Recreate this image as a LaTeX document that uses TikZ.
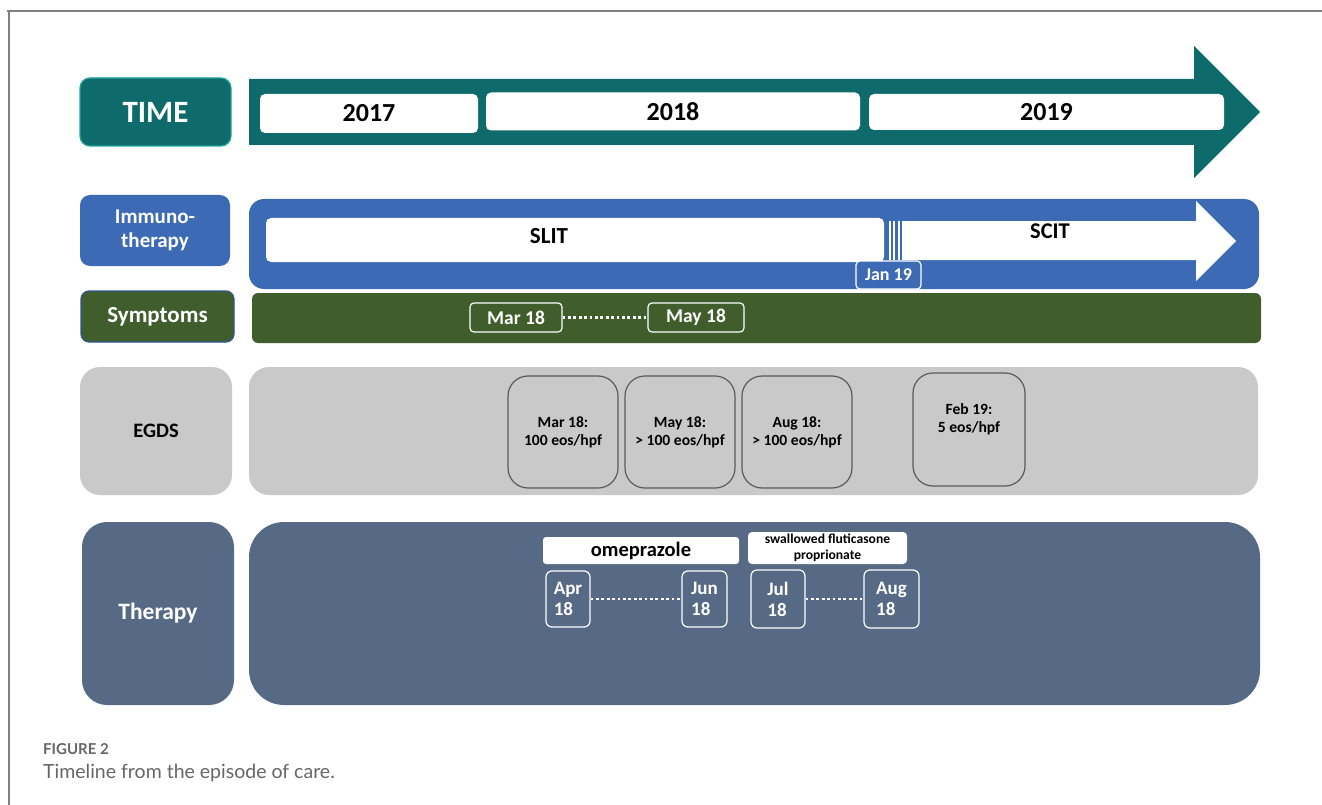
\documentclass[tikz,border=0pt]{standalone}
\usepackage{fontspec}
\setmainfont{Carlito}
\newfontfamily\capfont{Lato}
\usetikzlibrary{positioning}

\definecolor{tealdark}{HTML}{0F6B6B}
\definecolor{tealedge}{HTML}{22A39E}
\definecolor{immblue}{HTML}{3D6AB5}
\definecolor{symgreen}{HTML}{3F5E2B}
\definecolor{symedge}{HTML}{2F5496}
\definecolor{egdsgray}{HTML}{C9C9C9}
\definecolor{egdsedge}{HTML}{5A5A5A}
\definecolor{therslate}{HTML}{566A85}
\definecolor{capgray}{HTML}{666666}

\newcommand\fsz[2]{\fontsize{#1}{#2}\selectfont\bfseries}

\begin{document}
\begin{tikzpicture}[x=1pt,y=-1pt,
	rowlabel/.style={rounded corners=10pt, text=white, align=center, inner sep=0pt},
	yearbox/.style={fill=white, rounded corners=5pt, inner sep=0pt, font=\fsz{26}{30}},
	datebox/.style={draw=white, line width=1.2pt, rounded corners=4pt, inner sep=0pt, text=white},
	egbox/.style={draw=egdsedge, fill=egdsgray, line width=1.2pt, rounded corners=20pt,
		minimum width=110, minimum height=112, inner sep=0pt, align=center, font=\fsz{15.6}{18}},
	therbox/.style={datebox, rounded corners=6pt, align=left, font=\fsz{19}{21}},
	dots/.style={white, line width=2.8pt, dash pattern=on 2.8pt off 2.6pt}]

\useasboundingbox (0,0) rectangle (1322,805);

% frame
\draw[gray, line width=1.2pt] (7,11) -- (1322,11);
\draw[gray, line width=1.2pt] (9,11) -- (9,805);

% TIME
\node[rowlabel, draw=tealedge, line width=1.2pt, fill=tealdark, minimum width=151, minimum height=68, font=\fsz{31}{34}] (time) at (155.5,112) {TIME};
\fill[tealdark] (249,79) -- (1194,79) -- (1194,46) -- (1260,112) -- (1194,178) -- (1194,145) -- (249,145) -- cycle;
\node[yearbox, minimum width=218, minimum height=39] (y2017) at (369,113.5) {2017};
\node[yearbox, minimum width=374, minimum height=38] (y2018) at (673,111.5) {2018};
\node[yearbox, minimum width=355, minimum height=36] (y2019) at (1046.5,112) {2019};

% Immunotherapy
\node[rowlabel, fill=immblue, minimum width=150, minimum height=71, font=\fsz{21}{24}] (immuno) at (155,230.5) {Immuno-\\therapy};
\fill[immblue, rounded corners=15pt] (249,199) rectangle (1259,289);
\fill[white, rounded corners=5pt] (266,218) rectangle (884,262);
\node[font=\fsz{23}{26}] (slit) at (549,236) {SLIT};
\fill[white] (888.5,221) rectangle (890.5,260);
\fill[white] (893,221) rectangle (895,260);
\fill[white] (897.5,221) rectangle (899.5,260);
\fill[white] (902,221) -- (1196,221) -- (1196,201) -- (1236,241) -- (1196,281) -- (1196,260) -- (902,260) -- cycle;
\node[font=\fsz{22.5}{26}] (scit) at (1050,231) {SCIT};
\node[datebox, fill=immblue, minimum width=65, minimum height=28, font=\fsz{18}{20}] (jan) at (888.5,275) {Jan 19};

% Symptoms
\node[rowlabel, rounded corners=8pt, draw=symedge, line width=1.2pt, fill=symgreen, minimum width=153, minimum height=51, font=\fsz{23}{25}] (symptoms) at (157.5,316.5) {Symptoms};
\fill[symgreen, rounded corners=6pt] (252,293) rectangle (1261,343);
\node[datebox, minimum width=92, minimum height=29, font=\fsz{19.5}{22}] (mar) at (516,317.5) {Mar 18};
\node[datebox, minimum width=96, minimum height=29, font=\fsz{19.5}{22}] (may) at (696,317.5) {May 18};
\draw[dots] (mar) -- (may);

% EGDS
\node[rowlabel, rounded corners=20pt, fill=egdsgray, text=black, minimum width=152, minimum height=128, font=\fsz{20.5}{23}] (egds) at (156,431) {\raisebox{-3pt}{EGDS}};
\fill[egdsgray, rounded corners=20pt] (249,367) rectangle (1258,495);
\node[egbox] (emar) at (563,432) {Mar 18:\\100 eos/hpf};
\node[egbox] (emay) at (680,432) {May 18:\\> 100 eos/hpf};
\node[egbox] (eaug) at (797,432) {Aug 18:\\> 100 eos/hpf};
\node[egbox, minimum width=112, minimum height=113] (efeb) at (969,429.5) {};
\node[align=center, font=\fsz{15.6}{18}] (efebtext) at ([yshift=10pt]efeb.center) {Feb 19:\\5 eos/hpf};

% Therapy
\node[rowlabel, rounded corners=25pt, fill=therslate, minimum width=152, minimum height=183, font=\fsz{23.5}{26}] (therapy) at (158,613.5) {\raisebox{3pt}{Therapy}};
\fill[therslate, rounded corners=35pt] (249,522) rectangle (1260,705);
\node[yearbox, rounded corners=3pt, minimum width=196, minimum height=27, font=\fsz{20.5}{23}] (omep) at (641,550.5) {omeprazole};
\node[yearbox, rounded corners=4pt, minimum width=159, minimum height=32, align=center, font=\fsz{13.6}{15.5}] (fluti) at (827.5,548) {swallowed f{}luticasone\\proprionate};
\node[therbox, minimum width=44, minimum height=56] (apr) at (568,599) {Apr\\18};
\node[therbox, minimum width=45, minimum height=56] (jun) at (704.5,599) {Jun\\18};
\node[therbox, minimum width=54, minimum height=58] (jul) at (778,599) {Jul\\18};
\node[therbox, minimum width=55, minimum height=58] (aug) at (891.5,599) {Aug\\18};
\draw[dots] (apr) -- (jun);
\draw[dots] (jul) -- (aug);

% caption
\node[anchor=base west, inner sep=0pt, text=capgray, font=\capfont\bfseries\fontsize{15}{17}\selectfont] (fig) at (43,754) {FIGURE 2};
\node[anchor=base west, inner sep=0pt, text=capgray, font=\capfont\fontsize{19.5}{22}\selectfont] (figtext) at (43,778) {Timeline from the episode of care.};
\end{tikzpicture}
\end{document}
